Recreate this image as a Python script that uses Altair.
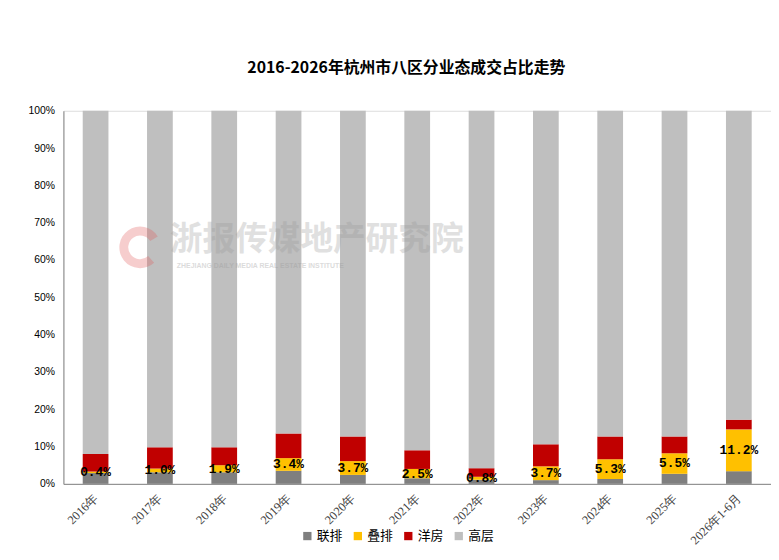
import altair as alt
import pandas as pd

years = ["2016年", "2017年", "2018年", "2019年", "2020年", "2021年",
         "2022年", "2023年", "2024年", "2025年", "2026年1-6月"]
series = ["联排", "叠排", "洋房", "高层"]
colors = ["#7f7f7f", "#ffc000", "#c00000", "#bfbfbf"]

lianpai = [2.9, 3.1, 3.1, 3.5, 2.4, 1.5, 1.1, 1.0, 1.3, 2.7, 3.4]
diepai = [0.4, 1.0, 1.9, 3.4, 3.7, 2.5, 0.8, 3.7, 5.3, 5.5, 11.2]
yangfang = [4.7, 5.7, 4.8, 6.6, 6.6, 5.0, 2.3, 5.9, 6.1, 4.5, 2.6]
gaoceng = [92.0, 90.2, 90.2, 86.5, 87.3, 91.0, 95.8, 89.4, 87.3, 87.3, 82.8]

title_text = "2016-2026年杭州市八区分业态成交占比走势"
wm_cn = "浙报传媒地产研究院"
wm_en = "ZHEJIANG DAILY MEDIA REAL ESTATE INSTITUTE"

rows = []
for s_i, (name, vals) in enumerate(zip(series, [lianpai, diepai, yangfang, gaoceng])):
    for y, v in zip(years, vals):
        rows.append({"year": y, "series": name, "value": v, "ord": s_i})
df = pd.DataFrame(rows)

lab = pd.DataFrame({
    "year": years,
    "mid": [a + b / 2 for a, b in zip(lianpai, diepai)],
    "label": [f"{b:.1f}%" for b in diepai],
})

W, H = 715, 377

xaxis = alt.Axis(labelAngle=315, labelAlign="right", labelBaseline="middle",
                 labelPadding=12, ticks=False, domainColor="#868686",
                 labelFont="Liberation Serif", labelFontSize=12.5,
                 labelColor="#404040", labelOverlap=False)
yaxis = alt.Axis(values=list(range(0, 101, 10)), labelExpr="datum.value + '%'",
                 grid=False, ticks=False, labelPadding=9, domainColor="#868686",
                 labelOverlap=False,
                 labelFont="Liberation Sans", labelFontSize=10.5, labelColor="#000000")
xscale = alt.Scale(paddingInner=0.6, paddingOuter=0.3)
yscale = alt.Scale(domain=[0, 100], nice=False)

bars = alt.Chart(df).mark_bar().encode(
    x=alt.X("year:N", sort=years, title=None, scale=xscale, axis=xaxis),
    y=alt.Y("value:Q", stack="zero", title=None, scale=yscale, axis=yaxis),
    color=alt.Color("series:N", sort=series,
                    scale=alt.Scale(domain=series, range=colors),
                    legend=alt.Legend(title=None, orient="none", direction="horizontal",
                                      legendX=240, legendY=423, symbolType="square",
                                      symbolSize=70, symbolStrokeWidth=0,
                                      labelFont="Noto Sans CJK SC", labelFontSize=13,
                                      labelColor="#000000", columnPadding=8,
                                      labelOffset=3)),
    order=alt.Order("ord:Q", sort="ascending"),
)

labels = alt.Chart(lab).mark_text(font="Liberation Mono", fontWeight="bold",
                                  fontSize=13, color="#000000").encode(
    x=alt.X("year:N", sort=years, title=None, scale=xscale, axis=xaxis),
    y=alt.Y("mid:Q", title=None, scale=yscale, axis=yaxis),
    text="label:N",
)

one = pd.DataFrame({"a": [1]})
wm1 = alt.Chart(one).mark_text(text=wm_cn, font="Noto Sans CJK SC", fontWeight="bold",
                               fontSize=33, color="#9a9a9a", opacity=0.3).encode(
    x=alt.value(256), y=alt.value(131))
wm2 = alt.Chart(one).mark_text(text=wm_en, font="Liberation Sans", fontWeight="bold",
                               fontSize=7, color="#9a9a9a", opacity=0.35).encode(
    x=alt.value(199), y=alt.value(157))
logo = alt.Chart(one).mark_arc(radius=21, radius2=12, theta=2.4, theta2=7.3,
                               color="#e05a5a", opacity=0.3).encode(
    x=alt.value(77.5), y=alt.value(138))

chart = alt.layer(bars, labels, logo, wm1, wm2).properties(
    width=W, height=H,
    autosize=alt.AutoSizeParams(type="none"),
    padding={"left": 56, "top": 101, "right": 0, "bottom": 66},
    title=alt.TitleParams(title_text, font="Noto Sans CJK SC", fontWeight="bold",
                          fontSize=16, color="#000000", anchor="middle", frame="group",
                          dx=-11, offset=30),
).configure_view(stroke=None).configure(background="white")

chart.save("out.html", embed_options={"renderer": "svg", "actions": False})
